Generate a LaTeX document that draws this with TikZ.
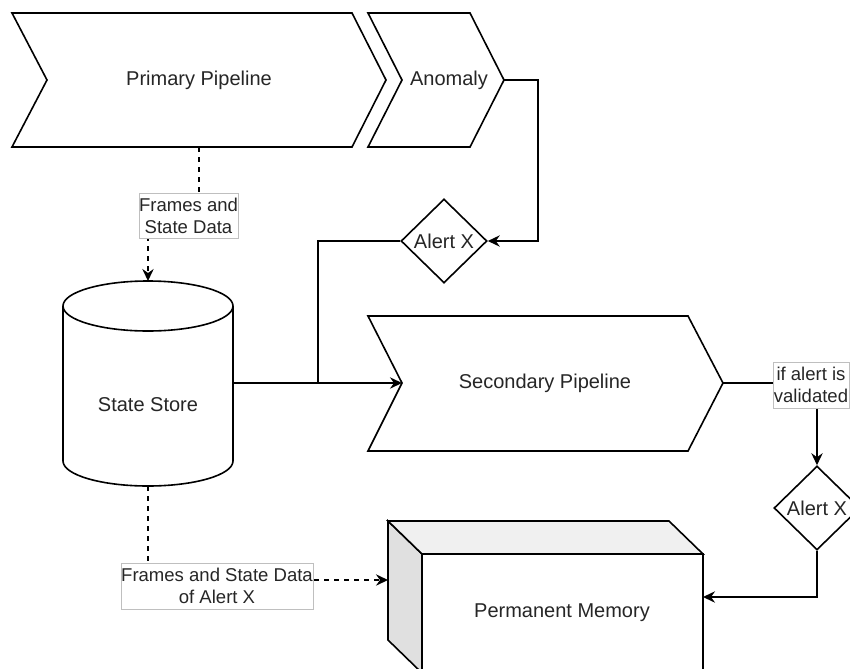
\documentclass[tikz,border=0pt]{standalone}
\usepackage{fontspec}
\setmainfont{Liberation Sans}
\usetikzlibrary{arrows.meta,shapes.geometric}
\newcommand\diagfont{\fontsize{15}{18}\selectfont}
\newcommand\tagfont{\fontsize{13.9}{16.6}\selectfont}
\begin{document}
\begin{tikzpicture}[x=0.75pt, y=-0.75pt,
  shp/.style={draw=black, line width=1.2pt, line join=miter, fill=white},
  txt/.style={font=\diagfont, text=black!85, inner sep=0pt},
  conn/.style={draw=black, line width=1.2pt},
  tipped/.style={-{Stealth[length=9pt,width=8.5pt,inset=3pt]}},
  dashline/.style={dash pattern=on 4pt off 3.5pt},
  decision/.style={diamond, draw=black, line width=1.2pt, fill=white,
    minimum width=64.5pt, minimum height=63pt, inner sep=0pt},
  edgetag/.style={fill=white, draw=black!25, line width=0.6pt, inner sep=0pt,
    align=center, font=\tagfont, text=black!85}
]
\useasboundingbox (0,0) rectangle (850,668);
\clip (0,0) rectangle (850,668);

% ---- shapes ----
% primary pipeline chevron
\draw[shp] (12,13) -- (352,13) -- (386,80) -- (352,147) -- (12,147) -- (47,80) -- cycle;
\node[txt] (primary) at (199,80) {Primary Pipeline};
\coordinate (pp-s) at (199,147);

% anomaly chevron
\draw[shp] (368,13) -- (470,13) -- (504,80) -- (470,147) -- (368,147) -- (402,80) -- cycle;
\node[txt] (anomaly) at (449,80) {Anomaly};
\coordinate (an-e) at (504,80);

% first alert decision
\node[decision] (d1) at (444,241) {};
\node[txt] (d1t) at (d1) {Alert X};

% state store cylinder
\draw[shp] (63,306) -- (63,461) arc[start angle=180, end angle=0, x radius=85, y radius=25] -- (233,306);
\draw[shp] (148,306) ellipse [x radius=85, y radius=25];
\node[txt] (store) at (148,405) {State Store};
\coordinate (cyl-n) at (148,281);
\coordinate (cyl-s) at (148,486);
\coordinate (cyl-e) at (233,383);

% secondary pipeline chevron
\draw[shp] (368,316) -- (688,316) -- (723,383) -- (688,451) -- (368,451) -- (402,383) -- cycle;
\node[txt] (secondary) at (545,383) {Secondary Pipeline};
\coordinate (sp-w) at (402,383);
\coordinate (sp-e) at (723,383);
\coordinate (junc) at (318,383);

% second alert decision
\node[decision] (d2) at (817,508) {};
\node[txt] (d2t) at (d2) {Alert X};

% permanent memory box
\draw[shp, fill=black!12] (388,521) -- (422,554) -- (422,673) -- (388,640) -- cycle;
\draw[shp, fill=black!6] (388,521) -- (669,521) -- (703,554) -- (422,554) -- cycle;
\draw[shp] (422,554) rectangle (703,673);
\node[txt] (memory) at (562,613) {Permanent Memory};
\coordinate (pm-w) at (388,580);
\coordinate (pm-e) at (703,597);

% ---- connectors ----
\coordinate (tagA) at (188.5,215.5);
\draw[conn, dashline, tipped] (pp-s) |- (tagA) -| (cyl-n);
\node[edgetag, minimum width=74.25pt, minimum height=33.75pt] at (tagA) {Frames and\\State Data};

\draw[conn, tipped] (an-e) -- ++(34,0) |- (d1.east);
\draw[conn] (d1.west) -| (junc);
\draw[conn, tipped] (cyl-e) -- (sp-w);

\coordinate (tagB) at (811,385);
\draw[conn, tipped] (sp-e) -| (d2.north);
\node[edgetag, minimum width=57pt, minimum height=34.5pt] at (tagB) {if alert is\\validated};

\draw[conn, dashline, tipped] (cyl-s) |- (pm-w);
\node[edgetag, minimum width=144pt, minimum height=34.5pt] at (217,586) {Frames and State Data\\of Alert X};

\draw[conn, tipped] (d2.south) |- (pm-e);
\end{tikzpicture}
\end{document}
